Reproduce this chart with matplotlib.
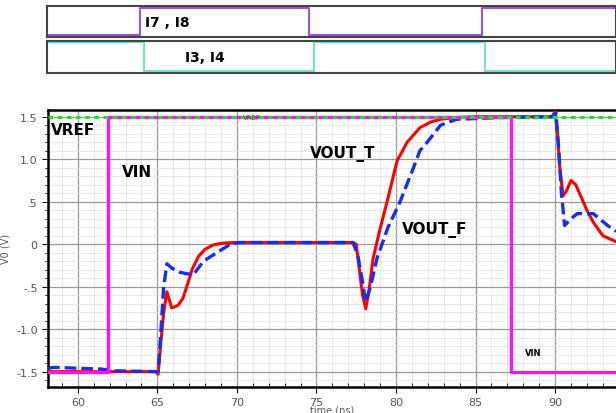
import numpy as np
import matplotlib
matplotlib.use('Agg')
import matplotlib.pyplot as plt
from matplotlib.ticker import MultipleLocator

# digital control waveforms (top strips)
t_i78 = [58.13, 64.0, 64.0, 74.6, 74.6, 85.4, 85.4, 93.83]
s_i78 = [0.08, 0.08, 0.93, 0.93, 0.08, 0.08, 0.93, 0.93]
t_i34 = [58.13, 64.2, 64.2, 74.9, 74.9, 85.6, 85.6, 93.83]
s_i34 = [0.98, 0.98, 0.08, 0.08, 0.98, 0.98, 0.08, 0.08]

# analog signals (ns, V)
t_vref = [58.13, 93.83]
v_vref = [1.5, 1.5]

t_vin = [58.13, 61.9, 61.9, 87.2, 87.2, 93.83]
v_vin = [-1.5, -1.5, 1.5, 1.5, -1.5, -1.5]

t_vout_t = [58.13, 64.9, 65.05, 65.2, 65.4, 65.6, 65.9, 66.3, 66.6, 66.9, 67.2, 67.6,
            68.0, 68.5, 69.0, 69.8, 77.3, 77.5, 77.7, 77.9, 78.1, 78.3, 78.56, 79.0,
            79.44, 80.07, 80.7, 81.5, 82.2, 82.8, 83.7, 85.0, 89.8, 90.0, 90.15, 90.3,
            90.5, 90.7, 91.0, 91.3, 91.7, 92.0, 92.4, 93.0, 93.83]
v_vout_t = [-1.5, -1.5, -1.53, -1.2, -0.8, -0.56, -0.75, -0.72, -0.64, -0.47, -0.29, -0.14,
            -0.06, -0.01, 0.01, 0.02, 0.02, 0.0, -0.3, -0.6, -0.76, -0.55, -0.17, 0.18,
            0.5, 0.98, 1.2, 1.37, 1.44, 1.47, 1.49, 1.5, 1.5, 1.56, 1.3, 0.9,
            0.57, 0.62, 0.75, 0.7, 0.53, 0.4, 0.26, 0.1, 0.03]

t_vout_f = [58.13, 58.5, 61.5, 62.2, 64.9, 65.05, 65.2, 65.4, 65.6, 65.9, 66.4, 66.9,
            67.3, 67.9, 68.9, 69.6, 70.2, 77.3, 77.6, 77.9, 78.1, 78.4, 78.8, 79.5,
            80.26, 81.1, 81.5, 81.96, 82.8, 83.8, 86.5, 89.9, 90.05, 90.2, 90.4, 90.6,
            91.0, 91.4, 92.4, 93.3, 93.83]
v_vout_f = [-1.46, -1.45, -1.47, -1.49, -1.5, -1.5, -1.1, -0.5, -0.23, -0.28, -0.33, -0.35,
            -0.35, -0.2, -0.08, 0.0, 0.02, 0.02, -0.13, -0.45, -0.68, -0.5, -0.17, 0.2,
            0.5, 0.9, 1.1, 1.2, 1.4, 1.47, 1.49, 1.5, 1.55, 1.2, 0.6, 0.22,
            0.3, 0.36, 0.36, 0.22, 0.15]

yticks = [1.5, 1.0, 0.5, 0.0, -0.5, -1.0, -1.5]
ytick_labels = ['1.5', '1.0', '.5', '0', '-.5', '-1.0', '-1.5']
xticks = [60, 65, 70, 75, 80, 85, 90]
xtick_labels = ['60', '65', '70', '75', '80', '85', '90']

XMIN, XMAX = 58.13, 93.83

fig = plt.figure(figsize=(6.16, 4.14), dpi=100)

# top strips
ax1 = fig.add_axes([0.076, 0.908, 0.924, 0.075])
ax1.plot(t_i78, s_i78, color='#a050d8', lw=1.5)
ax1.text(64.3, 0.5, 'I7 , I8', fontsize=10, fontweight='bold', va='center')
ax2 = fig.add_axes([0.076, 0.821, 0.924, 0.077])
ax2.plot(t_i34, s_i34, color='#70e8c8', lw=1.5)
ax2.text(66.8, 0.5, 'I3, I4', fontsize=10, fontweight='bold', va='center')
for a in (ax1, ax2):
    a.set_xlim(XMIN, XMAX)
    a.set_ylim(0, 1)
    a.set_xticks([])
    a.set_yticks([])
    for s in a.spines.values():
        s.set_color('#444444')
        s.set_linewidth(1.5)

# main plot
ax = fig.add_axes([0.078, 0.063, 0.922, 0.669])
ax.plot(t_vout_t, v_vout_t, color='red', lw=2.2, zorder=3)
ax.plot(t_vout_f, v_vout_f, color='#1a2ee8', lw=2.4, ls=(0, (3.5, 1.5)), zorder=4)
ax.plot(t_vin, v_vin, color='#ff10ff', lw=2.4, zorder=5)
ax.plot(t_vref, v_vref, color='#20e020', lw=2.2, ls=(0, (1.5, 1.5)), zorder=6)

ax.set_xlim(XMIN, XMAX)
ax.set_ylim(-1.68, 1.58)
ax.set_xticks(xticks)
ax.set_xticklabels(xtick_labels)
ax.set_yticks(yticks)
ax.set_yticklabels(ytick_labels)
ax.xaxis.set_minor_locator(MultipleLocator(1))
ax.yaxis.set_minor_locator(MultipleLocator(0.1))
ax.grid(True, which='major', color='#999999', lw=0.9)
ax.grid(True, which='minor', color='#e4e4e4', lw=0.6)
ax.set_axisbelow(True)
ax.tick_params(axis='both', which='major', labelsize=8, labelcolor='#555555', length=4)
ax.tick_params(axis='x', which='minor', direction='in', length=3)
ax.tick_params(axis='y', which='minor', direction='out', length=2)
for s in ('left', 'bottom', 'top'):
    ax.spines[s].set_linewidth(1.8)
ax.spines['right'].set_visible(False)
ax.set_xlabel('time (ns)', fontsize=7, color='#555555', labelpad=-2)
ax.set_ylabel('V0 (V)', fontsize=7, color='#555555', labelpad=4)

ax.text(58.3, 1.35, 'VREF', fontsize=11, fontweight='bold', va='center')
ax.text(62.8, 0.86, 'VIN', fontsize=11, fontweight='bold', va='center')
ax.text(74.6, 1.07, 'VOUT_T', fontsize=11, fontweight='bold', va='center')
ax.text(80.4, 0.18, 'VOUT_F', fontsize=11, fontweight='bold', va='center')
ax.text(70.4, 1.5, 'VREF', fontsize=5, color='#555555', va='center', zorder=7)
ax.text(88.1, -1.27, 'VIN', fontsize=6, fontweight='bold', va='center')

fig.savefig('out.png', dpi=100)
